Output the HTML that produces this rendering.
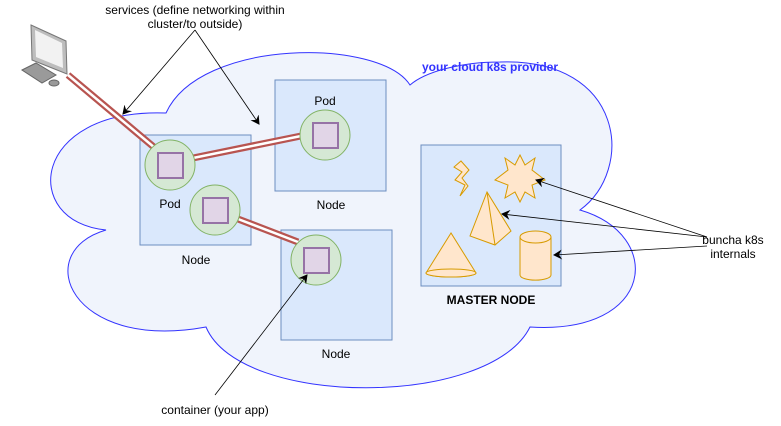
<!DOCTYPE html>
<html><head><meta charset="utf-8"><style>
html,body{margin:0;padding:0;background:#fff;}
svg{display:block;font-family:"Liberation Sans",Arial,sans-serif;}
</style></head><body>
<svg width="781" height="426" viewBox="0 0 781 426">
<defs>
<marker id="ah" markerWidth="10" markerHeight="10" refX="8" refY="5" orient="auto" markerUnits="userSpaceOnUse">
<path d="M0,0 L9,5 L0,10 L3,5 Z" fill="#000"/></marker>
</defs>
<path d="M166,113 C30,108 20,222 106,230 C30,252 70,352 206,327 C240,408 490,408 530,327 C655,335 665,235 580,210 C635,170 625,58 500,62 C460,62 425,72 410,85 C380,38 200,38 166,113 Z" fill="#f0f4fc" stroke="#3333ff" stroke-width="1"/>
<text x="490" y="71" font-size="12" font-weight="bold" fill="#3333ff" text-anchor="middle">your cloud k8s provider</text>

<g>
<polygon points="31,25 66,41 67,74 32,60" fill="#bdbdbd" stroke="#777"/>
<polygon points="35,30 62,43 63,68 36,57" fill="#f2f2f2"/>
<polygon points="22,70 36,63 56,75 42,83" fill="#9a9a9a" stroke="#666"/>
<ellipse cx="54" cy="83" rx="5" ry="3" fill="#9a9a9a" stroke="#666"/>
</g>

<rect x="140" y="135" width="111" height="110" fill="#dae8fc" stroke="#6c8ebf"/>
<rect x="275" y="80" width="111" height="111" fill="#dae8fc" stroke="#6c8ebf"/>
<rect x="281" y="230" width="111" height="110" fill="#dae8fc" stroke="#6c8ebf"/>
<rect x="421" y="145" width="140" height="141" fill="#dae8fc" stroke="#6c8ebf"/>

<g stroke-linecap="butt">
<line x1="68" y1="75" x2="155" y2="148" stroke="#b85450" stroke-width="7"/>
<line x1="68" y1="75" x2="155" y2="148" stroke="#fff" stroke-width="2.5"/>
<line x1="193" y1="158" x2="301" y2="136" stroke="#b85450" stroke-width="7"/>
<line x1="193" y1="158" x2="301" y2="136" stroke="#fff" stroke-width="2.5"/>
<line x1="238" y1="219" x2="298" y2="242" stroke="#b85450" stroke-width="7"/>
<line x1="238" y1="219" x2="298" y2="242" stroke="#fff" stroke-width="2.5"/>
</g>

<g><circle cx="170" cy="165" r="25" fill="#d5e8d4" stroke="#82b366"/><rect x="158" y="153" width="25" height="25" fill="#e1d5e7" stroke="#9673a6" stroke-width="2"/></g>
<g><circle cx="215" cy="210" r="25" fill="#d5e8d4" stroke="#82b366"/><rect x="203" y="198" width="25" height="25" fill="#e1d5e7" stroke="#9673a6" stroke-width="2"/></g>
<g><circle cx="325" cy="135" r="25" fill="#d5e8d4" stroke="#82b366"/><rect x="313" y="123" width="25" height="25" fill="#e1d5e7" stroke="#9673a6" stroke-width="2"/></g>
<g><circle cx="316" cy="260" r="25" fill="#d5e8d4" stroke="#82b366"/><rect x="304" y="248" width="25" height="25" fill="#e1d5e7" stroke="#9673a6" stroke-width="2"/></g>

<g font-size="12" fill="#000" text-anchor="middle">
<text x="170" y="208">Pod</text>
<text x="325" y="105">Pod</text>
<text x="196" y="264">Node</text>
<text x="331" y="209">Node</text>
<text x="336" y="358">Node</text>
<text x="491" y="304" font-weight="bold">MASTER NODE</text>
<text x="195" y="14">services (define networking within</text>
<text x="195" y="28">cluster/to outside)</text>
<text x="215" y="414">container (your app)</text>
<text x="733" y="244">buncha k8s</text>
<text x="733" y="258">internals</text>
</g>

<g fill="#ffe6cc" stroke="#d79b00">
<polygon points="461,161 469,170 462,178 468,186 460,196 465,185 455,180 462,172 454,167" />
<polygon points="520,155 525,165 535,158 532,170 545,180 532,185 535,198 525,192 520,202 515,192 505,198 508,185 495,180 508,170 505,158 515,165"/>
<polygon points="487,192 470,236 495,245 511,231"/>
<line x1="487" y1="192" x2="495" y2="245"/>
<path d="M451,233 L426,273 A25,4 0 0 0 476,273 Z"/>
<ellipse cx="451" cy="273" rx="25" ry="4"/>
<path d="M520,237 L520,275 A15,5 0 0 0 551,275 L551,237 Z"/>
<ellipse cx="535.5" cy="237" rx="15.5" ry="6"/>
</g>

<g stroke="#000" stroke-width="0.8" fill="none">
<line x1="195" y1="30" x2="123" y2="114" marker-end="url(#ah)"/>
<line x1="195" y1="30" x2="259" y2="124" marker-end="url(#ah)"/>
<line x1="215" y1="395" x2="307" y2="275" marker-end="url(#ah)"/>
<line x1="707" y1="237" x2="536" y2="180" marker-end="url(#ah)"/>
<line x1="707" y1="237" x2="502" y2="214" marker-end="url(#ah)"/>
<line x1="707" y1="246" x2="554" y2="255" marker-end="url(#ah)"/>
</g>
</svg>
</body></html>
